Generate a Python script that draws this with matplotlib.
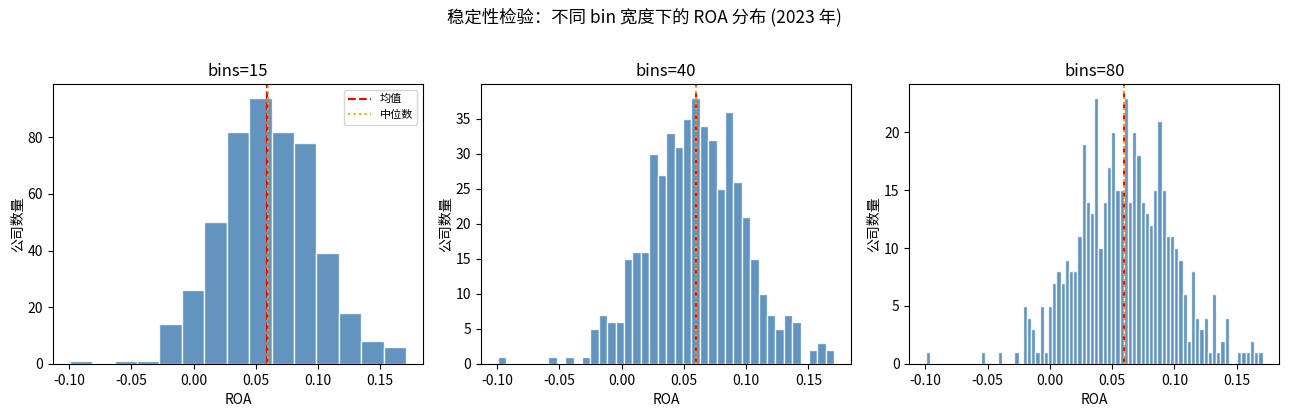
import numpy as np
import matplotlib
matplotlib.use("Agg")
import matplotlib.pyplot as plt

plt.rcParams['font.family'] = ['Noto Sans CJK SC', 'DejaVu Sans']
plt.rcParams['axes.unicode_minus'] = False

# ROA sample range (2023), n = 500 firms
roa_min = -0.0995
roa_max = 0.1708
roa_mean = 0.0594
roa_median = 0.0598

bin_sizes = [15, 40, 80]

counts_15 = [1, 0, 1, 1, 14, 26, 50, 82, 94, 82, 78, 39, 18, 8, 6]

counts_40 = [1, 0, 0, 0, 0, 0, 1, 0, 1, 0,
             1, 5, 7, 6, 6, 15, 16, 16, 30, 27,
             33, 31, 35, 38, 34, 32, 25, 36, 26, 21,
             15, 10, 7, 5, 7, 6, 0, 2, 3, 2]

counts_80 = [1, 0, 0, 0, 0, 0, 0, 0, 0, 0,
             0, 0, 0, 1, 0, 0, 0, 1, 0, 0,
             0, 1, 0, 5, 4, 3, 1, 5, 1, 5,
             7, 8, 7, 9, 8, 8, 11, 19, 14, 13,
             23, 10, 14, 17, 20, 15, 15, 23, 14, 20,
             18, 14, 13, 12, 15, 21, 15, 11, 11, 10,
             9, 6, 2, 8, 4, 3, 4, 1, 6, 1,
             2, 4, 0, 0, 1, 1, 1, 2, 1, 1]

all_counts = [counts_15, counts_40, counts_80]

fig, axes = plt.subplots(1, 3, figsize=(12.89, 4.13), dpi=100)
fig.subplots_adjust(left=0.041, right=0.9925, bottom=0.119, top=0.796, wspace=0.157)

for ax, n_bins, counts in zip(axes, bin_sizes, all_counts):
    edges = np.linspace(roa_min, roa_max, n_bins + 1)
    ax.hist(edges[:-1], bins=edges, weights=counts,
            color="steelblue", alpha=0.85, edgecolor="white")
    ax.axvline(roa_mean, color="red", ls="--", lw=1.5, label="均值")
    ax.axvline(roa_median, color="orange", ls=":", lw=1.5, label="中位数")
    ax.set_title(f"bins={n_bins}", fontsize=12)
    ax.set_xlabel("ROA", fontsize=10)
    ax.set_ylabel("公司数量", fontsize=10, labelpad=2)
    ax.tick_params(labelsize=10)

axes[0].legend(fontsize=8, loc="upper right")
fig.suptitle("稳定性检验：不同 bin 宽度下的 ROA 分布 (2023 年)", fontsize=12.5)

fig.savefig("out.png", dpi=100)
